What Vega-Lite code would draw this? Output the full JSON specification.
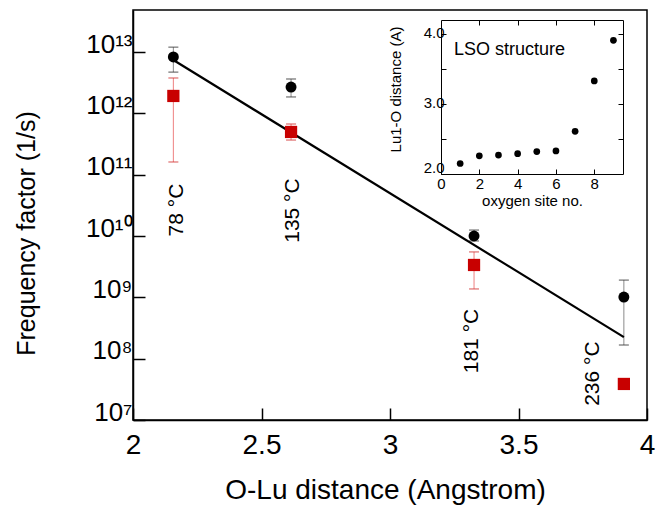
{
  "$schema": "https://vega.github.io/schema/vega-lite/v6.json",
  "width": 514,
  "height": 410,
  "autosize": {"type": "none"},
  "padding": {"left": 133, "top": 10, "right": 21, "bottom": 87},
  "background": "white",
  "config": {
    "view": {"stroke": "black", "strokeWidth": 1.5},
    "font": "Liberation Sans",
    "axis": {
      "grid": false,
      "domainColor": "black",
      "domainWidth": 1.5,
      "tickColor": "black",
      "tickWidth": 1.5,
      "labelColor": "black",
      "titleColor": "black",
      "titleFontWeight": "normal",
      "labelFont": "Liberation Sans",
      "titleFont": "Liberation Sans",
      "labelFlush": false,
      "labelOverlap": false,
      "labelBound": false
    }
  },
  "datasets": {
    "pts": [
      {"d": 2.157, "f": 8.3e12, "lo": 4.7e12, "hi": 1.2e13, "s": "circle"},
      {"d": 2.615, "f": 2.68e12, "lo": 1.85e12, "hi": 3.63e12, "s": "circle"},
      {"d": 3.327, "f": 1.0e10, "lo": 8.3e9, "hi": 1.25e10, "s": "circle"},
      {"d": 3.91, "f": 1.01e9, "lo": 1.67e8, "hi": 1.91e9, "s": "circle"},
      {"d": 2.157, "f": 1.92e12, "lo": 1.61e11, "hi": 3.77e12, "s": "square"},
      {"d": 2.615, "f": 4.97e11, "lo": 3.67e11, "hi": 6.7e11, "s": "square"},
      {"d": 3.327, "f": 3.37e9, "lo": 1.37e9, "hi": 5.5e9, "s": "square"},
      {"d": 3.91, "f": 3.87e7, "lo": null, "hi": null, "s": "square"}
    ],
    "fit": [
      {"d": 2.157, "f": 7.4e12},
      {"d": 3.91, "f": 2.25e8}
    ],
    "temps": [
      {"d": 2.171, "f": 2.65e10, "t": "78 °C"},
      {"d": 2.623, "f": 2.6e10, "t": "135 °C"},
      {"d": 3.319, "f": 1.94e8, "t": "181 °C"},
      {"d": 3.79, "f": 5.7e7, "t": "236 °C"}
    ],
    "inset": [
      {"site": 1, "dist": 2.15},
      {"site": 2, "dist": 2.26},
      {"site": 3, "dist": 2.27},
      {"site": 4, "dist": 2.29},
      {"site": 5, "dist": 2.32},
      {"site": 6, "dist": 2.33},
      {"site": 7, "dist": 2.61},
      {"site": 8, "dist": 3.33},
      {"site": 9, "dist": 3.91}
    ],
    "insetLabel": [
      {"site": 0.68, "dist": 3.77, "t": "LSO structure"}
    ]
  },
  "layer": [
    {
      "layer": [
        {
          "data": {"name": "pts"},
          "transform": [{"filter": "datum.lo != null"}],
          "mark": {"type": "rule", "strokeWidth": 1},
          "encoding": {
            "x": {
              "field": "d", "type": "quantitative",
              "title": "O-Lu distance (Angstrom)",
              "scale": {"domain": [2, 4], "nice": false, "zero": false},
              "axis": {
                "orient": "bottom",
                "values": [2, 2.5, 3, 3.5, 4],
                "format": "~g",
                "tickSize": -12,
                "labelFontSize": 28,
                "labelPadding": 23,
                "title": "O-Lu distance (Angstrom)",
                "titleFontSize": 28,
                "titleX": 252,
                "titleY": 70,
                "titleBaseline": "middle",
                "titleAlign": "center"
              }
            },
            "y": {
              "field": "lo", "type": "quantitative",
              "title": "Frequency factor (1/s)",
              "scale": {"type": "log", "domain": [1e7, 4.84e13], "nice": false},
              "axis": {
                "orient": "left",
                "values": [1e7, 1e8, 1e9, 1e10, 1e11, 1e12, 1e13],
                "labelExpr": "'10' + ['⁷','⁸','⁹','¹⁰','¹¹','¹²','¹³'][round(log(datum.value)/LN10)-7]",
                "tickSize": -12,
                "labelFontSize": 26,
                "labelPadding": 13,
                "labelOffset": -8,
                "title": "Frequency factor (1/s)",
                "titleFontSize": 25,
                "titleX": -107,
                "titleY": 223,
                "titleAngle": 270,
                "titleBaseline": "middle",
                "titleAlign": "center"
              }
            },
            "y2": {"field": "hi"},
            "stroke": {
              "field": "s", "type": "nominal",
              "scale": {"domain": ["circle", "square"], "range": ["#8a8a8a", "#ee8080"]},
              "legend": null
            }
          }
        },
        {
          "data": {"name": "pts"},
          "transform": [{"filter": "datum.lo != null"}],
          "mark": {"type": "point", "shape": "M -1 0 L 1 0", "filled": false, "size": 100, "strokeWidth": 1.2},
          "encoding": {
            "x": {"field": "d", "type": "quantitative", "title": "O-Lu distance (Angstrom)"},
            "y": {"field": "hi", "type": "quantitative", "title": "Frequency factor (1/s)"},
            "color": {
              "field": "s", "type": "nominal",
              "scale": {"domain": ["circle", "square"], "range": ["#333333", "#d23030"]},
              "legend": null
            }
          }
        },
        {
          "data": {"name": "pts"},
          "transform": [{"filter": "datum.lo != null"}],
          "mark": {"type": "point", "shape": "M -1 0 L 1 0", "filled": false, "size": 100, "strokeWidth": 1.2},
          "encoding": {
            "x": {"field": "d", "type": "quantitative", "title": "O-Lu distance (Angstrom)"},
            "y": {"field": "lo", "type": "quantitative", "title": "Frequency factor (1/s)"},
            "color": {"field": "s", "type": "nominal", "legend": null}
          }
        },
        {
          "data": {"name": "fit"},
          "mark": {"type": "line", "color": "black", "strokeWidth": 2.2},
          "encoding": {
            "x": {"field": "d", "type": "quantitative", "title": "O-Lu distance (Angstrom)"},
            "y": {"field": "f", "type": "quantitative", "title": "Frequency factor (1/s)"}
          }
        },
        {
          "data": {"name": "pts"},
          "mark": {"type": "point", "filled": true, "opacity": 1},
          "encoding": {
            "x": {"field": "d", "type": "quantitative", "title": "O-Lu distance (Angstrom)"},
            "y": {"field": "f", "type": "quantitative", "title": "Frequency factor (1/s)"},
            "shape": {
              "field": "s", "type": "nominal",
              "scale": {"domain": ["circle", "square"], "range": ["circle", "square"]},
              "legend": null
            },
            "fill": {
              "field": "s", "type": "nominal",
              "scale": {"domain": ["circle", "square"], "range": ["#000000", "#c80000"]},
              "legend": null
            },
            "size": {
              "field": "s", "type": "nominal",
              "scale": {"domain": ["circle", "square"], "range": [120, 150]},
              "legend": null
            }
          }
        },
        {
          "data": {"name": "temps"},
          "mark": {"type": "text", "angle": 270, "align": "center", "baseline": "middle", "fontSize": 21, "font": "Liberation Sans", "color": "black"},
          "encoding": {
            "x": {"field": "d", "type": "quantitative", "title": "O-Lu distance (Angstrom)"},
            "y": {"field": "f", "type": "quantitative", "title": "Frequency factor (1/s)"},
            "text": {"field": "t"}
          }
        }
      ]
    },
    {
      "layer": [
        {
          "data": {"name": "inset"},
          "mark": {"type": "point", "filled": true, "color": "black", "opacity": 1, "size": 45},
          "encoding": {
            "x": {
              "field": "site", "type": "quantitative",
              "scale": {"domain": [0, 9.5], "range": [308, 490], "nice": false, "zero": false},
              "axis": {
                "orient": "bottom",
                "offset": -246,
                "values": [0, 2, 4, 6, 8],
                "format": "d",
                "tickSize": -5,
                "tickWidth": 1,
                "domainWidth": 1,
                "labelFontSize": 15,
                "labelPadding": 7,
                "title": "oxygen site no.",
                "titleFontSize": 15,
                "titleX": 399,
                "titleY": 26,
                "titleBaseline": "middle",
                "titleAlign": "center"
              }
            },
            "y": {
              "field": "dist", "type": "quantitative",
              "scale": {"domain": [2, 4.2], "range": [164, 10], "nice": false, "zero": false},
              "axis": {
                "orient": "left",
                "offset": -308,
                "values": [2, 2.5, 3, 3.5, 4],
                "labelExpr": "datum.value % 1 == 0 ? format(datum.value, '.1f') : ''",
                "tickSize": -5,
                "tickWidth": 1,
                "domainWidth": 1,
                "labelFontSize": 15,
                "labelPadding": 2,
                "labelOffset": {"condition": {"test": "datum.value == 2", "value": -7}, "value": -2},
                "title": "Lu1-O distance (A)",
                "titleFontSize": 15,
                "titleX": -46,
                "titleY": 79,
                "titleAngle": 270,
                "titleBaseline": "middle",
                "titleAlign": "center"
              }
            }
          }
        },
        {
          "data": {"name": "inset"},
          "mark": {"type": "point", "opacity": 0},
          "encoding": {
            "x": {
              "field": "site", "type": "quantitative",
              "axis": {
                "orient": "top",
                "offset": -10,
                "values": [2, 4, 6, 8],
                "labels": false,
                "tickSize": -5,
                "tickWidth": 1,
                "domainWidth": 1,
                "title": null
              }
            },
            "y": {
              "field": "dist", "type": "quantitative",
              "axis": {
                "orient": "right",
                "offset": -24,
                "values": [2.5, 3, 3.5, 4],
                "labels": false,
                "tickSize": -5,
                "tickWidth": 1,
                "domainWidth": 1,
                "title": null
              }
            }
          }
        },
        {
          "data": {"name": "insetLabel"},
          "mark": {"type": "text", "align": "left", "baseline": "middle", "fontSize": 18, "font": "Liberation Sans", "color": "black"},
          "encoding": {
            "x": {"field": "site", "type": "quantitative", "axis": null},
            "y": {"field": "dist", "type": "quantitative", "axis": null},
            "text": {"field": "t"}
          }
        }
      ],
      "resolve": {"axis": {"x": "independent", "y": "independent"}}
    }
  ],
  "resolve": {"scale": {"x": "independent", "y": "independent"}}
}
